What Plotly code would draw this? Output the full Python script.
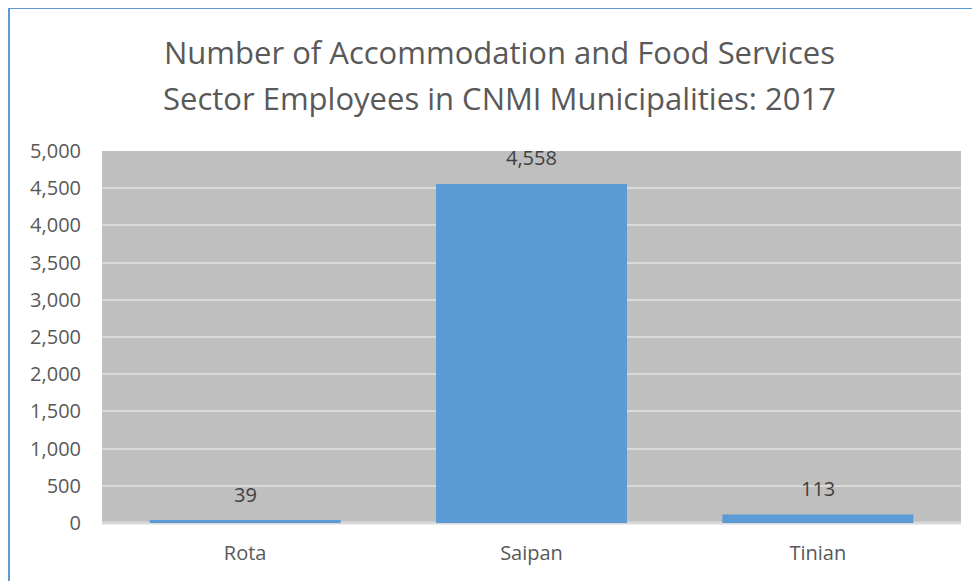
import plotly.graph_objects as go

categories = ["Rota", "Saipan", "Tinian"]
employees = [39, 4558, 113]
tick_vals = [0, 500, 1000, 1500, 2000, 2500, 3000, 3500, 4000, 4500, 5000]
title_lines = [
    "Number of Accommodation and Food Services",
    "Sector Employees in CNMI Municipalities: 2017",
]

OFF = 8  # page body margin
W, H = 980 - OFF, 581 - OFF
L, R, T, B = 102 - OFF, 19, 151 - OFF, 58
pw, ph = W - L - R, H - T - B

def px_x(x):  # page px -> paper x
    return (x - OFF - L) / pw

def px_y(y):  # page px -> paper y
    return (H - B - (y - OFF)) / ph

fig = go.Figure(go.Bar(
    x=categories, y=employees,
    marker=dict(color="#5B9BD5", line=dict(width=0)),
    width=0.667,
    hoverinfo="skip",
))

for c, v in zip(categories, employees):
    fig.add_annotation(
        x=c, y=v, xref="x", yref="y", text=f"{v:,}", showarrow=False,
        yanchor="middle", yshift=26,
        font=dict(family="Open Sans", size=20, color="#404040"),
    )

for line, yc in zip(title_lines, [52, 97.5]):
    fig.add_annotation(
        x=px_x(499), y=px_y(yc), xref="paper", yref="paper",
        text=line, showarrow=False, xanchor="center", yanchor="middle",
        font=dict(family="Open Sans", size=31, color="#595959"),
    )

fig.update_layout(
    width=W, height=H,
    margin=dict(l=L, r=R, t=T, b=B, pad=0),
    paper_bgcolor="white",
    plot_bgcolor="#BFBFBF",
    showlegend=False,
    bargap=0.333,
    xaxis=dict(
        showgrid=False, showline=False, ticks="",
        ticklabelstandoff=16,
        tickfont=dict(family="Open Sans", size=20, color="#595959"),
    ),
    yaxis=dict(
        range=[0, 5000], tickvals=tick_vals,
        tickformat=",d",
        showgrid=True, gridcolor="#D9D9D9", gridwidth=2,
        zeroline=False, showline=False, ticks="",
        ticklabelstandoff=20,
        tickfont=dict(family="Open Sans", size=20, color="#595959"),
    ),
    shapes=[
        dict(type="line", xref="paper", yref="paper",
             x0=0, x1=1, y0=0, y1=0,
             line=dict(color="#D9D9D9", width=3), layer="below"),
        dict(type="rect", xref="paper", yref="paper",
             x0=px_x(9), x1=px_x(1000), y0=px_y(8), y1=px_y(620),
             line=dict(color="#5B9BD5", width=2), fillcolor="rgba(0,0,0,0)"),
    ],
)

fig.write_html("out.html")
